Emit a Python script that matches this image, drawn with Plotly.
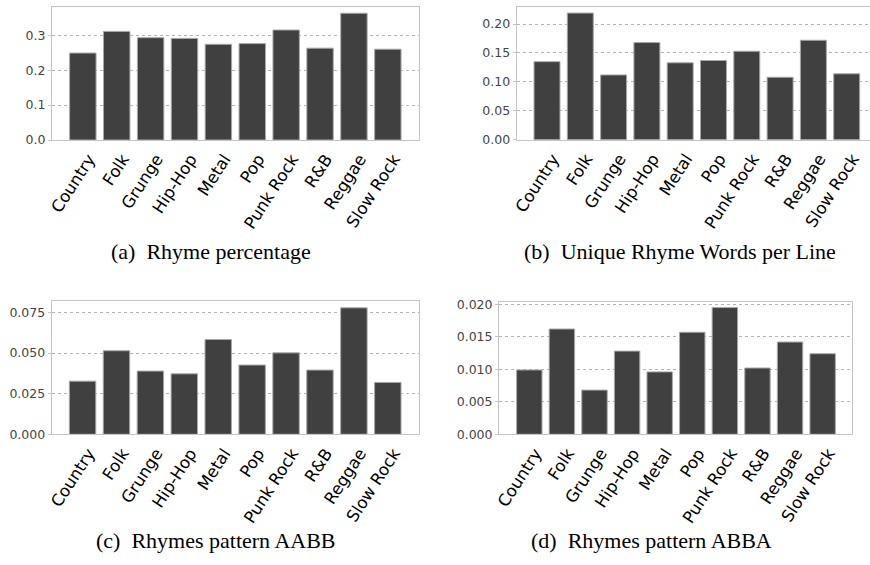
import plotly.graph_objects as go

genres = ["Country", "Folk", "Grunge", "Hip-Hop", "Metal", "Pop", "Punk Rock", "R&B", "Reggae", "Slow Rock"]
rhyme_pct = [0.249, 0.311, 0.293, 0.291, 0.274, 0.276, 0.315, 0.263, 0.363, 0.260]
unique_rhyme = [0.135, 0.219, 0.112, 0.168, 0.133, 0.137, 0.153, 0.108, 0.172, 0.114]
aabb = [0.0327, 0.0514, 0.0389, 0.0372, 0.0583, 0.0426, 0.0501, 0.0395, 0.0778, 0.0319]
abba = [0.0099, 0.0162, 0.0068, 0.0128, 0.0096, 0.0157, 0.0195, 0.0102, 0.0142, 0.0124]
captions = ["(a)\u00a0 Rhyme percentage", "(b)\u00a0 Unique Rhyme Words per Line",
            "(c)\u00a0 Rhymes pattern AABB", "(d)\u00a0 Rhymes pattern ABBA"]

W, H = 870, 565
panels = [
    dict(vals=rhyme_pct, x=(52, 419), y=(7.3, 140), xr=[-0.91, 9.92], yr=[0, 0.38], dtick=0.1, fmt=".1f", right=True),
    dict(vals=unique_rhyme, x=(516.7, 870), y=(7.3, 139.7), xr=[-0.91, 9.70], yr=[0, 0.229], dtick=0.05, fmt=".2f", right=False),
    dict(vals=aabb, x=(51.7, 419), y=(301, 434.3), xr=[-0.91, 9.92], yr=[0, 0.082], dtick=0.025, fmt=".3f", right=True),
    dict(vals=abba, x=(499, 852.3), y=(301.7, 434.3), xr=[-0.93, 9.91], yr=[0, 0.0204], dtick=0.005, fmt=".3f", right=True),
]
cap_pos = [(211, 252), (680, 252), (216, 540), (651, 540)]

fig = go.Figure()
layout = dict(width=W, height=H, margin=dict(l=0, r=0, t=0, b=0),
              paper_bgcolor="white", plot_bgcolor="white", showlegend=False)
annotations = []
for i, p in enumerate(panels):
    n = "" if i == 0 else str(i + 1)
    fig.add_trace(go.Bar(x=list(range(len(genres))), y=p["vals"], xaxis="x" + n, yaxis="y" + n,
                         marker=dict(color="#404040", line=dict(color="#a8a8a8", width=1)),
                         width=0.78))
    layout["xaxis" + n] = dict(domain=[p["x"][0] / W, p["x"][1] / W], range=p["xr"], automargin=False,
                               anchor="y" + n, tickmode="array", tickvals=list(range(len(genres))),
                               ticktext=genres, tickangle=-57, showgrid=False, zeroline=False,
                               showline=True, linecolor="#c4c4c4", linewidth=1, mirror=True,
                               ticks="outside", ticklen=2, tickcolor="rgba(0,0,0,0)", ticklabelshift=6,
                               tickfont=dict(family="DejaVu Sans", size=16.5, color="black"))
    layout["yaxis" + n] = dict(domain=[1 - p["y"][1] / H, 1 - p["y"][0] / H], range=p["yr"], automargin=False,
                               anchor="x" + n, dtick=p["dtick"], tick0=0, tickformat=p["fmt"],
                               showgrid=True, gridcolor="#b4b4b4", griddash="dot", gridwidth=1,
                               zeroline=False, showline=True, linecolor="#c4c4c4", linewidth=1,
                               mirror=p["right"], ticks="outside", ticklen=3, tickcolor="#c4c4c4",
                               tickfont=dict(family="DejaVu Sans", size=12.5, color="#444444"))
    annotations.append(dict(x=cap_pos[i][0] / W, y=1 - cap_pos[i][1] / H, xref="paper", yref="paper",
                            text=captions[i], showarrow=False, xanchor="center", yanchor="middle",
                            font=dict(family="Liberation Serif", size=22, color="black")))
layout["annotations"] = annotations
fig.update_layout(**layout)
fig.write_html("out.html")
